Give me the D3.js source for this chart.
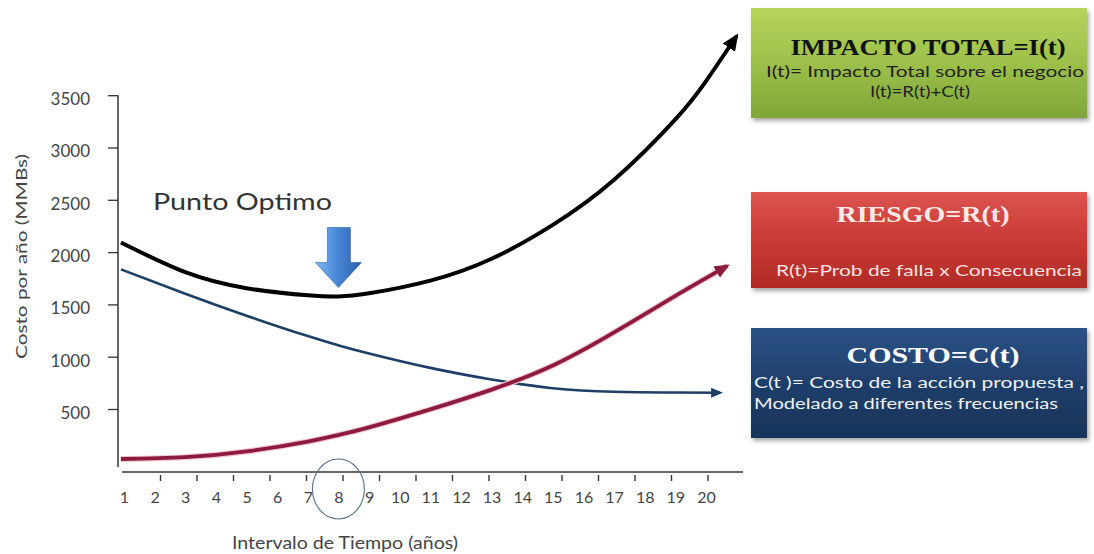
<!DOCTYPE html>
<html><head><meta charset="utf-8">
<script src="https://cdn.jsdelivr.net/npm/d3@7"></script>
<style>body{margin:0;background:#fff}</style>
</head><body><svg id="c" width="1094" height="554"></svg>
<script>
// ---- data ----
const years = d3.range(1, 21);
const yTickValues = [500, 1000, 1500, 2000, 2500, 3000, 3500];
const impactoT = [0.9, 3, 5, 7, 8, 9, 11, 13, 15, 17, 19, 20, 21];
const impactoV = [2092, 1808, 1655, 1587, 1576, 1606, 1727, 1936, 2260, 2691, 3268, 3634, 4066];
const costoT = [0.9, 3, 5, 7, 8, 9, 11, 13, 15, 17, 19, 20.46];
const costoV = [1835, 1602, 1392, 1197, 1109, 1031, 893, 782, 699, 665, 658, 655];
const riesgoT = [0.9, 3, 5, 7, 8, 9, 11, 13, 15, 17, 19, 20, 20.69];
const riesgoV = [22, 39, 94, 189, 251, 324, 496, 685, 916, 1232, 1581, 1752, 1868];
const optimoYear = 8;
const minorTickCount = 16;

const svg = d3.select("#c");
const x = d3.scaleLinear().domain([1, 20]).range([124, 706]);
const y = d3.scaleLinear().domain([0, 3500]).range([461.3, 95.2]);
const axisY = 472;
const sans = "Lato, 'Open Sans', sans-serif";
const serif = "'Liberation Serif', 'DejaVu Serif', serif";

const defs = svg.append("defs");
function marker(id, color, len, wid) {
  defs.append("marker").attr("id", id).attr("markerUnits", "userSpaceOnUse")
    .attr("markerWidth", len).attr("markerHeight", wid)
    .attr("refX", len - 3).attr("refY", wid / 2).attr("orient", "auto")
    .append("path").attr("d", `M0,0L${len},${wid / 2}L0,${wid}Z`).attr("fill", color);
}
marker("mBlack", "#000", 17, 15);
marker("mRed", "#8c1b3c", 15, 13);
marker("mBlue", "#1d3f66", 12, 10);

function grad(id, stops, vertical = true) {
  const g = defs.append("linearGradient").attr("id", id)
    .attr("x1", 0).attr("y1", 0).attr("x2", vertical ? 0 : 1).attr("y2", vertical ? 1 : 0);
  stops.forEach(([o, c]) => g.append("stop").attr("offset", o).attr("stop-color", c));
}
grad("gGreen", [[0, "#b7d35c"], [0.5, "#9dc04a"], [1, "#7fa638"]]);
grad("gRed", [[0, "#dc5550"], [0.5, "#c93a35"], [1, "#b02a26"]]);
grad("gBlue", [[0, "#2c5286"], [0.5, "#1f3f6b"], [1, "#183459"]]);
grad("gArrow", [[0, "#86b8f0"], [0.45, "#4a8ad8"], [1, "#2a5ea8"]], false);
const f = defs.append("filter").attr("id", "shadow").attr("x", "-5%").attr("y", "-5%").attr("width", "115%").attr("height", "125%");
f.append("feDropShadow").attr("dx", 2).attr("dy", 3).attr("stdDeviation", 2).attr("flood-color", "#000").attr("flood-opacity", 0.35);

// ---- axes ----
const yAxis = d3.axisLeft(y).tickValues(yTickValues).tickFormat(d3.format("d")).tickSize(10).tickPadding(18);
const gy = svg.append("g").attr("transform", "translate(118,0)").call(yAxis);
gy.select(".domain").remove();
gy.selectAll(".tick line").attr("stroke", "#333").attr("stroke-width", 1.3);
gy.selectAll(".tick text").attr("font-family", sans).attr("font-size", 17).attr("fill", "#444")
  .attr("dy", "0.55em");
svg.append("line").attr("x1", 118).attr("x2", 118).attr("y1", y(3500)).attr("y2", axisY - 5)
  .attr("stroke", "#333").attr("stroke-width", 1.5);

const xAxis = d3.axisBottom(x).tickValues(years).tickSize(0).tickPadding(20);
const gx = svg.append("g").attr("transform", `translate(0,${axisY})`).call(xAxis);
gx.select(".domain").remove();
gx.selectAll(".tick text").attr("font-family", sans).attr("font-size", 16).attr("fill", "#444");
svg.append("line").attr("x1", 122).attr("x2", 743).attr("y1", axisY).attr("y2", axisY)
  .attr("stroke", "#333").attr("stroke-width", 1.6);
const tickScale = d3.scaleLinear().domain([0, minorTickCount]).range([x(1), x(20) + 2]);
svg.append("g").selectAll("line").data(d3.range(1, minorTickCount + 1)).join("line")
  .attr("x1", d => tickScale(d)).attr("x2", d => tickScale(d))
  .attr("y1", axisY + 3).attr("y2", axisY + 9).attr("stroke", "#333").attr("stroke-width", 1.4);

svg.append("text").attr("transform", `translate(27,${(153 + 360) / 2}) rotate(-90)`)
  .attr("text-anchor", "middle").attr("font-family", sans).attr("font-size", 16).attr("fill", "#444")
  .attr("textLength", 205).attr("lengthAdjust", "spacingAndGlyphs")
  .text("Costo por año (MMBs)");
svg.append("text").attr("x", 345).attr("y", 549).attr("text-anchor", "middle")
  .attr("font-family", sans).attr("font-size", 17).attr("fill", "#444")
  .attr("textLength", 226).attr("lengthAdjust", "spacingAndGlyphs")
  .text("Intervalo de Tiempo (años)");

// circle around optimum year
svg.append("ellipse").attr("cx", x(optimoYear)).attr("cy", 489).attr("rx", 26).attr("ry", 30)
  .attr("fill", "none").attr("stroke", "#5a7188").attr("stroke-width", 1.1);

// ---- curves ----
const line = d3.line().x(d => x(d[0])).y(d => y(d[1])).curve(d3.curveNatural);
svg.append("path").datum(d3.zip(costoT, costoV)).attr("d", line)
  .attr("fill", "none").attr("stroke", "#1d3f66").attr("stroke-width", 2.6).attr("marker-end", "url(#mBlue)");
svg.append("path").datum(d3.zip(riesgoT, riesgoV)).attr("d", line)
  .attr("fill", "none").attr("stroke", "#f3c6d2").attr("stroke-width", 6);
svg.append("path").datum(d3.zip(riesgoT, riesgoV)).attr("d", line)
  .attr("fill", "none").attr("stroke", "#8c1b3c").attr("stroke-width", 3.8).attr("marker-end", "url(#mRed)");
svg.append("path").datum(d3.zip(impactoT, impactoV)).attr("d", line)
  .attr("fill", "none").attr("stroke", "#000").attr("stroke-width", 4).attr("marker-end", "url(#mBlack)");

// ---- Punto Optimo annotation ----
svg.append("text").attr("x", 153).attr("y", 210).attr("font-family", sans).attr("font-size", 23)
  .attr("fill", "#333").attr("textLength", 179).attr("lengthAdjust", "spacingAndGlyphs").text("Punto Optimo");
const ax = x(optimoYear), tipY = y(d3.min(impactoV)) - 9;
svg.append("path").attr("fill", "url(#gArrow)").attr("stroke", "#2a5ea8").attr("stroke-width", 0.6)
  .attr("d", `M${ax - 11},${tipY - 60}L${ax + 12},${tipY - 60}L${ax + 12},${tipY - 25}L${ax + 23},${tipY - 25}L${ax},${tipY}L${ax - 23},${tipY - 25}L${ax - 11},${tipY - 25}Z`);

// ---- info boxes ----
const boxes = [
  {y: 8, h: 110, fill: "url(#gGreen)"},
  {y: 192, h: 96, fill: "url(#gRed)"},
  {y: 328, h: 110, fill: "url(#gBlue)"}
];
svg.append("g").selectAll("rect").data(boxes).join("rect")
  .attr("x", 751).attr("y", d => d.y).attr("width", 336).attr("height", d => d.h)
  .attr("fill", d => d.fill).attr("filter", "url(#shadow)");

const texts = [
  {t: "IMPACTO TOTAL=I(t)", x: 928, y: 55, s: 24, f: serif, w: "bold", c: "#111", len: 275, a: "middle"},
  {t: "I(t)= Impacto Total sobre el negocio", x: 925, y: 77, s: 15, f: sans, w: "normal", c: "#222", len: 318, a: "middle"},
  {t: "I(t)=R(t)+C(t)", x: 920, y: 97, s: 15, f: sans, w: "normal", c: "#222", len: 100, a: "middle"},
  {t: "RIESGO=R(t)", x: 923, y: 222, s: 24, f: serif, w: "bold", c: "#fbe9e9", len: 173, a: "middle"},
  {t: "R(t)=Prob de falla x Consecuencia", x: 929, y: 276, s: 15, f: sans, w: "normal", c: "#fbe3e3", len: 306, a: "middle"},
  {t: "COSTO=C(t)", x: 933, y: 363, s: 24, f: serif, w: "bold", c: "#ffffff", len: 173, a: "middle"},
  {t: "C(t )= Costo de la acción propuesta ,", x: 754, y: 388, s: 15.5, f: sans, w: "normal", c: "#f2f2f2", len: 330, a: "start"},
  {t: "Modelado a diferentes frecuencias", x: 754, y: 409, s: 15.5, f: sans, w: "normal", c: "#f2f2f2", len: 304, a: "start"}
];
svg.append("g").selectAll("text").data(texts).join("text")
  .attr("x", d => d.x).attr("y", d => d.y).attr("text-anchor", d => d.a)
  .attr("font-family", d => d.f).attr("font-size", d => d.s).attr("font-weight", d => d.w)
  .attr("fill", d => d.c).attr("textLength", d => d.len).attr("lengthAdjust", "spacingAndGlyphs")
  .text(d => d.t);
</script>
</body></html>
